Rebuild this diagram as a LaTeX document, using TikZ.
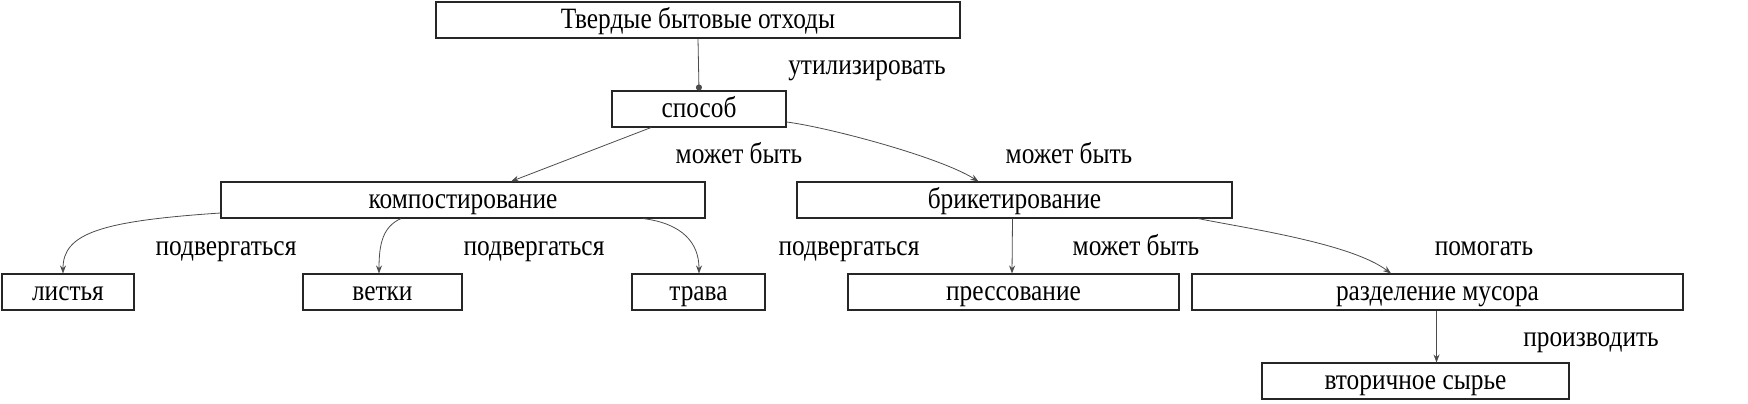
\documentclass[tikz,border=0pt]{standalone}
\usepackage{fontspec}
\setmainfont{Liberation Serif}[FakeStretch=0.86]
\usetikzlibrary{arrows.meta}
\begin{document}
\begin{tikzpicture}[x=1pt,y=-1pt,
  box/.style={draw=black!85, line width=1.1pt, rectangle, minimum height=36pt, inner sep=0pt, text height=20pt, text depth=3pt, font=\fontsize{29.5}{33}\selectfont},
  lbl/.style={inner sep=0pt, text height=20pt, text depth=3pt, font=\fontsize{29.5}{33}\selectfont},
  edge/.style={draw=black!70, line width=0.8pt, -{Stealth[length=8pt,width=6pt]}},
  dotedge/.style={draw=black!70, line width=0.8pt, -{Circle[length=6pt]}}]
\useasboundingbox (0,0) rectangle (1748,404);
% nodes
\node[box, minimum width=524pt] (A) at (698,20) {Твердые бытовые отходы};
\node[box, minimum width=174pt] (B) at (699,109) {способ};
\node[box, minimum width=484pt] (C) at (463,200) {компостирование};
\node[box, minimum width=435pt] (D) at (1014.5,200) {брикетирование};
\node[box, minimum width=132pt] (L) at (68,292) {листья};
\node[box, minimum width=159pt] (K) at (382.5,292) {ветки};
\node[box, minimum width=133pt] (T) at (698.5,292) {трава};
\node[box, minimum width=331pt] (P) at (1013.5,292) {прессование};
\node[box, minimum width=491pt] (R) at (1437.5,292) {разделение мусора};
\node[box, minimum width=307pt] (V) at (1415.5,381) {вторичное сырье};
% labels
\node[lbl] (l1) at (867,66) {утилизировать};
\node[lbl] (l2) at (739,155) {может быть};
\node[lbl] (l3) at (1069,155) {может быть};
\node[lbl] (l4) at (226,247) {подвергаться};
\node[lbl] (l5) at (534,247) {подвергаться};
\node[lbl] (l6) at (849,247) {подвергаться};
\node[lbl] (l7) at (1136,247) {может быть};
\node[lbl] (l8) at (1484,247) {помогать};
\node[lbl] (l9) at (1591,338) {производить};
% edges
\draw[dotedge] (A.south) -- (B.north);
\draw[edge] ([xshift=-48pt]B.south) -- ([xshift=48pt]C.north);
\draw[edge] ([yshift=-13pt]B.east) .. controls +(40,5) and +(-40,-25) .. ([xshift=-36pt]D.north);
\draw[edge] ([yshift=-13pt]C.west) .. controls +(-120,8) and +(0,-40) .. ([xshift=-5pt]L.north);
\draw[edge] ([xshift=-62pt]C.south) .. controls +(-18,8) and +(0,-30) .. ([xshift=-3.5pt]K.north);
\draw[edge] ([xshift=180pt]C.south) .. controls +(40,5) and +(0,-30) .. ([xshift=0.5pt]T.north);
\draw[edge] ([xshift=-2pt]D.south) -- ([xshift=-1.5pt]P.north);
\draw[edge] ([xshift=183.5pt]D.south) .. controls +(50,10) and +(-40,-30) .. ([xshift=-46.5pt]R.north);
\draw[edge] ([xshift=-1pt]R.south) -- ([xshift=21pt]V.north);
\end{tikzpicture}
\end{document}
